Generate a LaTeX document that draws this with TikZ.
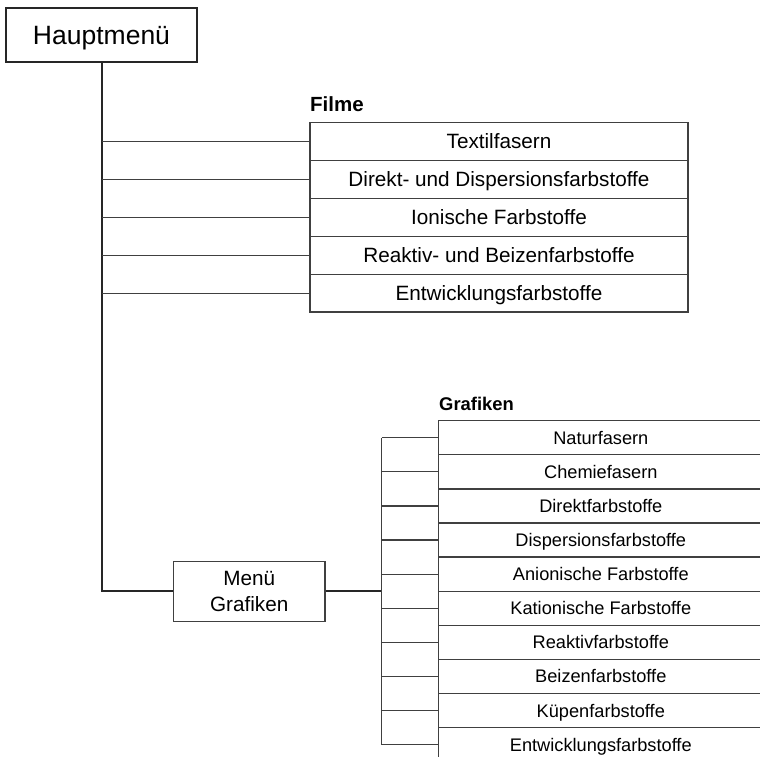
\documentclass[tikz,border=0pt]{standalone}
\usepackage{fontspec}
\setmainfont{Liberation Sans}
\begin{document}
\begin{tikzpicture}[x=1pt,y=-1pt,
  mainbox/.style={draw=black!85, line width=2.4pt, minimum width=191pt, minimum height=54pt, inner sep=0pt, text height=19pt, text depth=0pt, font=\fontsize{26.5}{30}\selectfont},
  filmrow/.style={draw=black!75, line width=1.3pt, minimum width=378pt, minimum height=37.9pt, inner sep=0pt, text height=14.8pt, text depth=0pt, font=\fontsize{20.7}{24}\selectfont},
  grafrow/.style={draw=black!75, line width=1.3pt, minimum width=324.2pt, minimum height=34.1pt, inner sep=0pt, text height=13pt, text depth=0pt, font=\fontsize{18.2}{22}\selectfont},
  menubox/.style={draw=black!75, line width=1.3pt, minimum width=151.3pt, minimum height=60pt, inner sep=0pt, align=center, font=\fontsize{20.7}{25.2}\selectfont},
  heading/.style={anchor=west, inner sep=0pt, text depth=0pt},
  branch/.style={draw=black!75, line width=1.2pt},
  trunk/.style={draw=black!85, line width=2pt}]
\useasboundingbox (0,0) rectangle (760,757);
\clip (0,0) rectangle (760,757);

\node[mainbox] (main) at (101.5,35) {Hauptmenü};

\node[heading, text height=14.7pt, font=\bfseries\fontsize{20.5}{24}\selectfont] (filme) at (310,104) {Filme};
\foreach \t [count=\i from 0] in {Textilfasern, Direkt- und Dispersionsfarbstoffe, Ionische Farbstoffe, Reaktiv- und Beizenfarbstoffe, Entwicklungsfarbstoffe}
  \node[filmrow] (f\i) at (499, 141.55+37.9*\i) {\t};

\node[menubox] (mg) at (249.2,591.4) {Menü\\Grafiken};

\node[heading, text height=13.2pt, font=\bfseries\fontsize{18.4}{22}\selectfont] (grafiken) at (439,403.8) {Grafiken};
\foreach \t [count=\i from 0] in {Naturfasern, Chemiefasern, Direktfarbstoffe, Dispersionsfarbstoffe, Anionische Farbstoffe, Kationische Farbstoffe, Reaktivfarbstoffe, Beizenfarbstoffe, Küpenfarbstoffe, Entwicklungsfarbstoffe}
  \node[grafrow] (g\i) at (600.8, 437.75+34.1*\i) {\t};

% main trunk
\draw[trunk] (main.south) |- (mg.west);
\foreach \i in {0,...,4}
  \draw[branch] (main.south |- f\i.west) -- (f\i.west);

% Grafiken trunk
\coordinate (gx) at (381.5,591.4);
\draw[trunk] (mg.east) -- (gx);
\draw[branch] (gx |- g0.west) -- (gx |- g9.west);
\foreach \i in {0,...,9}
  \draw[branch] (gx |- g\i.west) -- (g\i.west);
\end{tikzpicture}
\end{document}
